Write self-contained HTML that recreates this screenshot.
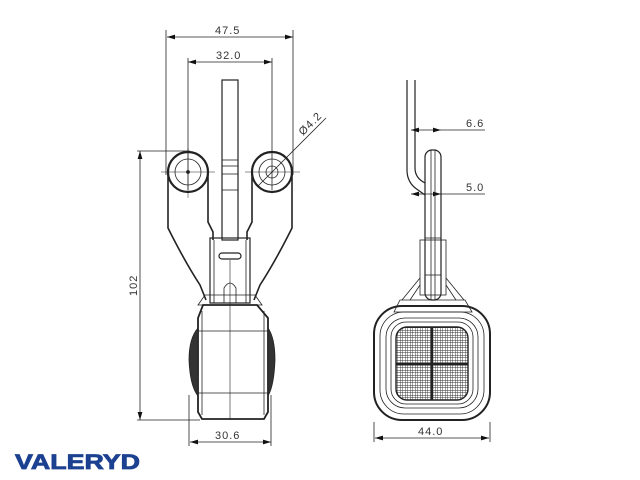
<!DOCTYPE html>
<html><head><style>
html,body{margin:0;padding:0;background:#fff;width:640px;height:480px;overflow:hidden}
svg{display:block}
text{font-family:"Liberation Sans",sans-serif;fill:#333}
</style></head><body>
<svg width="640" height="480" viewBox="0 0 640 480">
<defs>
<pattern id="g" width="2.5" height="2.5" patternUnits="userSpaceOnUse">
<rect width="2.5" height="2.5" fill="#fff"/><path d="M0 0H2.5M0 0V2.5" stroke="#333" stroke-width="0.9"/>
</pattern>
<marker id="a" viewBox="0 0 10 6" refX="10" refY="3" markerWidth="10" markerHeight="6" orient="auto-start-reverse"><path d="M0 0L10 3L0 6z" fill="#111"/></marker>
</defs>
<g fill="none" stroke="#222" stroke-width="0.8">
<line x1="167" y1="37" x2="293" y2="37" marker-start="url(#a)" marker-end="url(#a)"/>
<line x1="166" y1="30" x2="166" y2="175"/><line x1="293" y1="30" x2="293" y2="175"/>
<line x1="188" y1="62" x2="272" y2="62" marker-start="url(#a)" marker-end="url(#a)"/>
<line x1="188" y1="58" x2="188" y2="190"/><line x1="272" y1="58" x2="272" y2="190"/>
<line x1="140" y1="151" x2="140" y2="420" marker-start="url(#a)" marker-end="url(#a)"/>
<line x1="137" y1="151" x2="190" y2="151"/><line x1="137" y1="420" x2="200" y2="420"/>
<line x1="190" y1="442" x2="271" y2="442" marker-start="url(#a)" marker-end="url(#a)"/>
<line x1="189" y1="395" x2="189" y2="446"/><line x1="271" y1="395" x2="271" y2="446"/>
<line x1="258" y1="186" x2="326" y2="118"/>
<line x1="161" y1="172" x2="215" y2="172" stroke-width="0.5"/><line x1="188" y1="148" x2="188" y2="198" stroke-width="0.5"/>
<line x1="245" y1="172" x2="300" y2="172" stroke-width="0.5"/>
<line x1="230" y1="260" x2="230" y2="420" stroke-width="0.6"/>
<rect x="222" y="80" width="16" height="160" stroke-width="1.2"/>
<line x1="222" y1="160" x2="238" y2="160"/><line x1="222" y1="166" x2="238" y2="166"/><line x1="222" y1="174" x2="238" y2="174"/><line x1="222" y1="190" x2="238" y2="190"/>
<path d="M168 172 L168 228 Q185 262 200 285 L206 300 M208 172 L208 222 L213 232 L213 240" stroke-width="1.6"/>
<path d="M292 172 L292 228 Q275 262 260 285 L254 300 M252 172 L252 222 L247 232 L247 240" stroke-width="1.6"/>
<circle cx="188" cy="172" r="20" stroke-width="2.2"/><circle cx="188" cy="172" r="13"/><circle cx="188" cy="172" r="1.5" fill="#222"/>
<circle cx="272" cy="172" r="20" stroke-width="2.2"/><circle cx="272" cy="172" r="13"/><circle cx="272" cy="172" r="6"/>
<rect x="210" y="238" width="40" height="65" stroke-width="1.2"/>
<line x1="214" y1="240" x2="214" y2="303"/><line x1="246" y1="240" x2="246" y2="303"/>
<rect x="219" y="253" width="22" height="6" rx="3" stroke-width="1.2"/>
<path d="M224 303 V288 Q230 278 236 288 V303"/>
<path d="M205 295 L255 295 L262 305 L198 305z"/>
<path d="M203 305 L257 305 L268 318 L268 412 L264 419 L202 419 L198 412 L198 318z" stroke-width="1.8"/>
<line x1="202" y1="311" x2="202" y2="415"/><line x1="264" y1="311" x2="264" y2="415"/>
<line x1="198" y1="331" x2="268" y2="331"/><line x1="198" y1="393" x2="268" y2="393"/>
<path d="M198 328 Q189 338 189 360 Q190 386 198 396z" fill="#333"/>
<path d="M268 328 Q275 338 275 360 Q274 386 268 396z" fill="#333"/>
<path d="M407 80 L407 170 Q407 183 418 190 L425 195 M415 80 L415 168 Q415 178 425 183" stroke-width="1.2"/>
<rect x="425" y="150" width="16" height="150" rx="7" stroke-width="1.2"/>
<line x1="411" y1="130" x2="441" y2="130" marker-start="url(#a)" marker-end="url(#a)"/><line x1="441" y1="130" x2="485" y2="130"/>
<line x1="411" y1="194" x2="441" y2="194" marker-start="url(#a)" marker-end="url(#a)"/><line x1="441" y1="194" x2="485" y2="194"/>
<line x1="431" y1="150" x2="431" y2="300"/><line x1="435" y1="150" x2="435" y2="300"/>
<line x1="425" y1="238" x2="441" y2="238"/><line x1="425" y1="275" x2="441" y2="275"/>
<rect x="420" y="240" width="26" height="55"/>
<path d="M420 278 L402 300 M446 278 L464 300 M420 285 L410 300 M446 285 L456 300"/>
<path d="M400 300 L465 300 L472 312 L394 312z"/>
<rect x="374" y="306" width="116" height="114" rx="28" stroke-width="2"/>
<rect x="380" y="312" width="104" height="102" rx="24"/>
<rect x="386" y="318" width="92" height="90" rx="19"/>
<rect x="391" y="322" width="82" height="82" rx="15"/>
<rect x="396" y="327" width="72" height="73" rx="11" fill="url(#g)" stroke-width="1.4"/>
<line x1="432" y1="327" x2="432" y2="400" stroke-width="2.5"/><line x1="396" y1="364" x2="468" y2="364" stroke-width="2.5"/>
<line x1="374" y1="422" x2="374" y2="442"/><line x1="490" y1="422" x2="490" y2="442"/>
<line x1="375" y1="438" x2="489" y2="438" marker-start="url(#a)" marker-end="url(#a)"/>
</g>
<g font-size="11" letter-spacing="1">
<text x="215" y="34">47.5</text>
<text x="216" y="59">32.0</text>
<text x="215" y="439">30.6</text>
<text x="418" y="435">44.0</text>
<text x="466" y="127">6.6</text>
<text x="466" y="191">5.0</text>
<text transform="translate(137,296) rotate(-90)">102</text>
<text transform="translate(303,136) rotate(-45)">Ø4.2</text>
</g>
<text x="15" y="469" font-size="21" font-weight="bold" style="fill:#1c4191;stroke:#1c4191;stroke-width:0.8" textLength="125" lengthAdjust="spacingAndGlyphs">VALERYD</text>
</svg>
</body></html>
